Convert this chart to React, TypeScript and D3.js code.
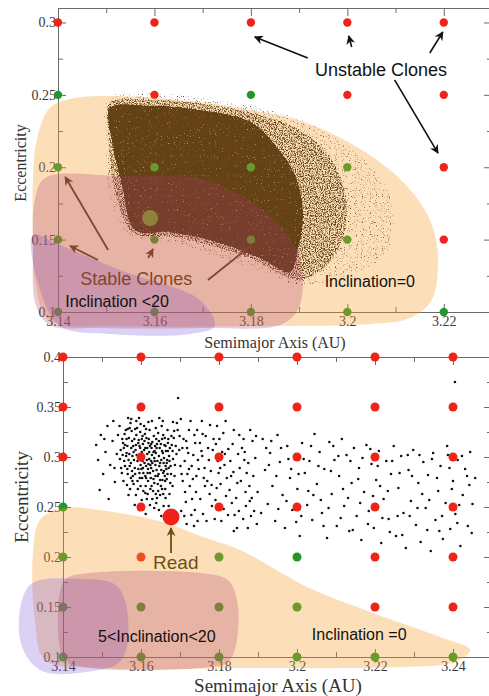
import { useEffect, useRef } from "react";
import * as d3 from "d3";

const W = 489;
const H = 696;

// ---------- upper panel (Inclination = 0 / < 20) ----------
const topColsA = [3.14, 3.16, 3.18, 3.2, 3.22];
const topRowsE = [0.3, 0.25, 0.2, 0.15, 0.1];
// u = unstable clone, s = stable clone (rows follow topRowsE)
const topStatus = [
  ["u", "u", "u", "u", "u"],
  ["s", "u", "s", "u", "u"],
  ["s", "s", "s", "s", "u"],
  ["s", "s", "s", "s", "u"],
  ["s", "s", "s", "s", "s"],
];
const topBigClone = [3.1591, 0.1649];
const topXTicks = [3.14, 3.16, 3.18, 3.2, 3.22];
const topXLabels = ["3.14", "3.16", "3.18", "3.2", "3.22"];
const topXMinor = [3.15, 3.17, 3.19, 3.21, 3.23];
const topYTicks = [0.1, 0.15, 0.2, 0.25, 0.3];
const topYLabels = ["0.1", "0.15", "0.2", "0.25", "0.3"];
const topYMinor = [0.125, 0.175, 0.225, 0.275];

// density contours of the integrated clone cloud (a, e)
const cloudFringe = [
  [3.1504, 0.2478], [3.1591, 0.2513], [3.1736, 0.2464], [3.1881, 0.2361], [3.1984, 0.2188],
  [3.2067, 0.1946], [3.2098, 0.167], [3.2078, 0.1394], [3.2005, 0.1256], [3.1902, 0.1187],
  [3.1798, 0.1304], [3.1653, 0.1463], [3.1549, 0.1532], [3.1508, 0.1774], [3.1499, 0.2188],
];
const cloudMedium = [
  [3.1506, 0.2444], [3.1611, 0.2464], [3.1756, 0.2409], [3.1881, 0.2292], [3.1953, 0.2119],
  [3.1995, 0.1843], [3.1995, 0.1566], [3.1964, 0.1345], [3.1902, 0.1221], [3.1798, 0.1373],
  [3.1653, 0.1511], [3.1555, 0.1553], [3.1518, 0.1843], [3.1504, 0.2257],
];
const cloudCore = [
  [3.1508, 0.2409], [3.1591, 0.2423], [3.1694, 0.2395], [3.1798, 0.2313], [3.185, 0.2154],
  [3.1891, 0.1946], [3.1908, 0.1684], [3.1897, 0.1428], [3.1881, 0.1276], [3.1819, 0.1373],
  [3.1715, 0.1497], [3.1632, 0.1553], [3.156, 0.1566], [3.1533, 0.1877], [3.1512, 0.2188],
];

const topInc0 = [
  [3.1348, 0.1912], [3.1356, 0.2188], [3.1383, 0.2409], [3.1435, 0.2478], [3.1522, 0.2492],
  [3.1653, 0.2464], [3.1777, 0.2409], [3.1916, 0.2306], [3.2053, 0.2071], [3.2136, 0.1822],
  [3.2177, 0.1587], [3.2188, 0.1345], [3.2175, 0.1083], [3.213, 0.0959], [3.2047, 0.0917],
  [3.1798, 0.0903], [3.1528, 0.0903], [3.1383, 0.0945], [3.1352, 0.1221], [3.1348, 0.1566],
];
const topStable = [
  [3.1373, 0.1926], [3.1528, 0.194], [3.1694, 0.1919], [3.1777, 0.1808], [3.185, 0.1636],
  [3.1895, 0.1428], [3.1908, 0.1221], [3.1897, 0.1014], [3.186, 0.091], [3.1694, 0.0889],
  [3.1487, 0.0889], [3.1383, 0.091], [3.1354, 0.1048], [3.1348, 0.1428], [3.1352, 0.1774],
];
const topInc20 = [
  [3.1348, 0.1532], [3.1363, 0.1152], [3.1404, 0.0903], [3.1508, 0.0848], [3.1674, 0.0848],
  [3.1725, 0.0903], [3.1694, 0.1083], [3.1528, 0.129], [3.1404, 0.1463],
];

const topArrowsBlack = [
  [[3.1918, 0.2755], [3.1808, 0.29]],
  [[3.2009, 0.2831], [3.2003, 0.2907]],
  [[3.2171, 0.2789], [3.2198, 0.2934]],
  [[3.2098, 0.2603], [3.2188, 0.2098]],
];
const topArrowsBrown = [
  [[3.1504, 0.1428], [3.1415, 0.1933]],
  [[3.1483, 0.1359], [3.1425, 0.1456]],
  [[3.1587, 0.1373], [3.1597, 0.1435]],
  [[3.1711, 0.1221], [3.1794, 0.1442]],
];

// ---------- lower panel (5 < Inclination < 20) ----------
const botColsA = [3.14, 3.16, 3.18, 3.2, 3.22, 3.24];
const botRowsE = [0.4, 0.35, 0.3, 0.25, 0.2, 0.15, 0.1];
const botStatus = [
  ["u", "u", "u", "u", "u", "u"],
  ["u", "u", "u", "u", "u", "u"],
  ["u", "u", "u", "u", "u", "u"],
  ["s", "u", "u", "u", "u", "u"],
  ["s", "u", "s", "s", "u", "u"],
  ["s", "s", "s", "s", "u", "u"],
  ["s", "s", "s", "s", "s", "s"],
];
const readOrbit = [3.1677, 0.24];
const botXTicks = [3.14, 3.16, 3.18, 3.2, 3.22, 3.24];
const botXLabels = ["3.14", "3.16", "3.18", "3.2", "3.22", "3.24"];
const botXMinor = [3.15, 3.17, 3.19, 3.21, 3.23, 3.25];
const botYTicks = [0.1, 0.15, 0.2, 0.25, 0.3, 0.35, 0.4];
const botYLabels = ["0.1", "0.15", "0.2", "0.25", "0.3", "0.35", "0.4"];
const botYMinor = [0.125, 0.175, 0.225, 0.275, 0.325, 0.375];

// end states of the Read clones (a, e)
const readClones = [
  [3.1552, 0.318], [3.1561, 0.327], [3.1573, 0.334], [3.158, 0.311], [3.1588, 0.322], [3.1595, 0.339],
  [3.1602, 0.305], [3.1609, 0.316], [3.1613, 0.328], [3.1621, 0.298], [3.1627, 0.309], [3.1633, 0.321],
  [3.164, 0.287], [3.1646, 0.301], [3.1651, 0.313], [3.1658, 0.294], [3.1664, 0.306], [3.167, 0.318],
  [3.1557, 0.296], [3.1566, 0.283], [3.1578, 0.301], [3.1584, 0.289], [3.1591, 0.276], [3.1599, 0.292],
  [3.1606, 0.284], [3.1612, 0.271], [3.1618, 0.288], [3.1625, 0.279], [3.1631, 0.266], [3.1637, 0.281],
  [3.1643, 0.273], [3.1649, 0.262], [3.1655, 0.277], [3.1662, 0.268], [3.1668, 0.283], [3.1675, 0.274],
  [3.1548, 0.307], [3.1559, 0.312], [3.1569, 0.319], [3.1576, 0.326], [3.1586, 0.307], [3.1593, 0.314],
  [3.1604, 0.321], [3.1616, 0.303], [3.1623, 0.311], [3.1635, 0.296], [3.1644, 0.324], [3.1653, 0.331],
  [3.1661, 0.319], [3.1672, 0.301], [3.1679, 0.312], [3.1685, 0.326], [3.1563, 0.304], [3.1571, 0.291],
  [3.1582, 0.297], [3.1597, 0.302], [3.1604, 0.296], [3.1611, 0.309], [3.1619, 0.293], [3.1628, 0.302],
  [3.1636, 0.311], [3.1647, 0.291], [3.1656, 0.304], [3.1666, 0.294], [3.1608, 0.331], [3.1628, 0.336],
  [3.1647, 0.339], [3.1588, 0.336], [3.1567, 0.339], [3.1545, 0.331], [3.1541, 0.322], [3.1549, 0.289],
  [3.1555, 0.276], [3.1572, 0.268], [3.1587, 0.262], [3.1602, 0.257], [3.1617, 0.263], [3.1639, 0.254],
  [3.1658, 0.251], [3.1596, 0.284], [3.1613, 0.279], [3.1626, 0.289], [3.1659, 0.286], [3.1676, 0.291],
  [3.1485, 0.312], [3.149, 0.297], [3.1497, 0.322], [3.1503, 0.283], [3.1509, 0.305], [3.1514, 0.331],
  [3.1521, 0.292], [3.1527, 0.316], [3.1533, 0.275], [3.1538, 0.303], [3.1494, 0.267], [3.1517, 0.258],
  [3.1529, 0.336], [3.1506, 0.318], [3.1532, 0.289], [3.1595, 0.247], [3.1612, 0.243], [3.1634, 0.249],
  [3.1652, 0.241], [3.1688, 0.238], [3.1703, 0.246], [3.1717, 0.233], [3.1729, 0.242], [3.1745, 0.236],
  [3.1623, 0.252], [3.1692, 0.334], [3.1699, 0.321], [3.1706, 0.309], [3.1712, 0.296], [3.1719, 0.283],
  [3.1725, 0.271], [3.1731, 0.258], [3.1738, 0.247], [3.1744, 0.327], [3.1751, 0.314], [3.1757, 0.301],
  [3.1763, 0.289], [3.177, 0.276], [3.1776, 0.263], [3.1782, 0.251], [3.1789, 0.238], [3.1795, 0.331],
  [3.1801, 0.318], [3.1808, 0.305], [3.1814, 0.292], [3.182, 0.279], [3.1827, 0.267], [3.1833, 0.254],
  [3.184, 0.242], [3.1846, 0.229], [3.1852, 0.322], [3.1859, 0.309], [3.1865, 0.297], [3.1871, 0.284],
  [3.1878, 0.271], [3.1884, 0.259], [3.189, 0.246], [3.1897, 0.233], [3.1702, 0.338], [3.1716, 0.316],
  [3.1734, 0.302], [3.1748, 0.288], [3.1766, 0.321], [3.1784, 0.307], [3.1799, 0.284], [3.1817, 0.336],
  [3.1835, 0.313], [3.1853, 0.289], [3.1868, 0.265], [3.1886, 0.316], [3.1893, 0.299], [3.1723, 0.327],
  [3.1741, 0.265], [3.1759, 0.243], [3.1777, 0.332], [3.1794, 0.269], [3.1812, 0.248], [3.1829, 0.296],
  [3.1847, 0.274], [3.1862, 0.238], [3.188, 0.327], [3.1715, 0.255], [3.1707, 0.276], [3.173, 0.291],
  [3.1756, 0.336], [3.1912, 0.318], [3.1918, 0.287], [3.1925, 0.253], [3.1931, 0.304], [3.1937, 0.271],
  [3.1944, 0.236], [3.195, 0.322], [3.1956, 0.295], [3.1963, 0.262], [3.1969, 0.229], [3.1975, 0.311],
  [3.1982, 0.279], [3.1988, 0.247], [3.1994, 0.301], [3.2001, 0.268], [3.2007, 0.221], [3.2013, 0.314],
  [3.202, 0.284], [3.2026, 0.252], [3.2032, 0.296], [3.2039, 0.237], [3.2045, 0.323], [3.2051, 0.273],
  [3.2058, 0.305], [3.2064, 0.244], [3.207, 0.288], [3.2077, 0.219], [3.2083, 0.315], [3.2089, 0.263],
  [3.2096, 0.297], [3.2102, 0.231], [3.2108, 0.281], [3.2115, 0.318], [3.2121, 0.251], [3.2127, 0.302],
  [3.2134, 0.226], [3.214, 0.274], [3.2146, 0.309], [3.2153, 0.241], [3.2159, 0.289], [3.2165, 0.217],
  [3.2172, 0.265], [3.2178, 0.312], [3.2184, 0.246], [3.2191, 0.293], [3.2197, 0.229], [3.2203, 0.277],
  [3.221, 0.306], [3.2216, 0.214], [3.2222, 0.258], [3.2229, 0.296], [3.2235, 0.238], [3.2241, 0.283],
  [3.2248, 0.311], [3.2254, 0.221], [3.226, 0.269], [3.2267, 0.301], [3.2273, 0.244], [3.2279, 0.209],
  [3.2286, 0.287], [3.2292, 0.256], [3.2298, 0.307], [3.2305, 0.232], [3.2311, 0.274], [3.2317, 0.215],
  [3.2324, 0.295], [3.233, 0.249], [3.2336, 0.282], [3.2343, 0.206], [3.2349, 0.304], [3.2355, 0.237],
  [3.2362, 0.266], [3.2368, 0.291], [3.2374, 0.218], [3.2381, 0.254], [3.2387, 0.302], [3.2393, 0.228],
  [3.24, 0.276], [3.2406, 0.243], [3.2412, 0.297], [3.2419, 0.211], [3.2425, 0.262], [3.2431, 0.288],
  [3.2438, 0.231], [3.2444, 0.305], [3.245, 0.253], [3.2457, 0.279], [3.1921, 0.309], [3.1947, 0.281],
  [3.1973, 0.256], [3.1998, 0.235], [3.2017, 0.298], [3.2042, 0.262], [3.2068, 0.231], [3.2093, 0.311],
  [3.2118, 0.268], [3.2143, 0.227], [3.2168, 0.299], [3.2195, 0.261], [3.2219, 0.239], [3.2244, 0.296],
  [3.227, 0.222], [3.2295, 0.281], [3.2321, 0.263], [3.2346, 0.298], [3.2372, 0.241], [3.2397, 0.268],
  [3.2423, 0.301], [3.2448, 0.224], [3.1695, 0.359], [3.2405, 0.375],
  [3.1554, 0.314], [3.1562, 0.301], [3.1571, 0.329], [3.1579, 0.281], [3.1583, 0.318], [3.1591, 0.296],
  [3.1598, 0.325], [3.1603, 0.279], [3.1607, 0.301], [3.1614, 0.319], [3.1617, 0.284], [3.1622, 0.327],
  [3.1626, 0.296], [3.1632, 0.305], [3.1634, 0.274], [3.1639, 0.318], [3.1642, 0.296], [3.1645, 0.283],
  [3.1648, 0.309], [3.1652, 0.297], [3.1657, 0.322], [3.1661, 0.281], [3.1663, 0.311], [3.1667, 0.297],
  [3.1671, 0.289], [3.1674, 0.309], [3.1678, 0.321], [3.1682, 0.298], [3.1686, 0.281], [3.1689, 0.311],
  [3.1558, 0.323], [3.1565, 0.311], [3.1568, 0.297], [3.1575, 0.309], [3.1577, 0.286], [3.1585, 0.328],
  [3.1589, 0.302], [3.1594, 0.317], [3.1598, 0.309], [3.1601, 0.288], [3.1605, 0.313], [3.1609, 0.294],
  [3.1611, 0.281], [3.1615, 0.297], [3.1619, 0.314], [3.1621, 0.305], [3.1624, 0.292], [3.1629, 0.315],
  [3.1631, 0.286], [3.1634, 0.299], [3.1638, 0.304], [3.1641, 0.313], [3.1644, 0.266], [3.1649, 0.277],
  [3.1652, 0.287], [3.1654, 0.318], [3.1659, 0.299], [3.1662, 0.276], [3.1665, 0.288], [3.1669, 0.306],
  [3.1546, 0.298], [3.1551, 0.284], [3.1564, 0.272], [3.1574, 0.279], [3.1581, 0.273], [3.1592, 0.268],
  [3.1597, 0.279], [3.1606, 0.266], [3.1615, 0.258], [3.1627, 0.271], [3.1638, 0.263], [3.1654, 0.268],
  [3.1663, 0.259], [3.1673, 0.263], [3.1681, 0.271], [3.1568, 0.262], [3.1584, 0.252], [3.1629, 0.258],
  [3.1646, 0.247], [3.1671, 0.251], [3.1694, 0.327], [3.1701, 0.291], [3.1709, 0.318], [3.1713, 0.265],
  [3.1721, 0.304], [3.1727, 0.336], [3.1733, 0.278], [3.1739, 0.314], [3.1746, 0.297], [3.1752, 0.258],
  [3.1758, 0.323], [3.1764, 0.271], [3.1772, 0.309], [3.1779, 0.286], [3.1786, 0.318], [3.1791, 0.257],
  [3.1797, 0.296], [3.1804, 0.273], [3.1811, 0.324], [3.1818, 0.261], [3.1824, 0.308], [3.1831, 0.281],
  [3.1838, 0.327], [3.1844, 0.259], [3.1849, 0.303], [3.1856, 0.276], [3.1863, 0.318], [3.1869, 0.251],
  [3.1875, 0.294], [3.1882, 0.241], [3.1888, 0.281], [3.1895, 0.321], [3.1711, 0.241], [3.1736, 0.231],
  [3.1768, 0.236], [3.1806, 0.236], [3.1838, 0.226], [3.1874, 0.229], [3.1928, 0.292], [3.1959, 0.309],
  [3.1985, 0.288], [3.2011, 0.241], [3.2036, 0.311], [3.2061, 0.257], [3.2087, 0.286], [3.2112, 0.239],
  [3.2137, 0.296], [3.2162, 0.254], [3.2188, 0.308], [3.2213, 0.271], [3.2238, 0.225], [3.2263, 0.284],
  [3.2289, 0.241], [3.2314, 0.302], [3.2339, 0.257], [3.2365, 0.226], [3.2391, 0.289], [3.2416, 0.252],
  [3.2442, 0.272],
  [3.1556, 0.309], [3.1559, 0.291], [3.1563, 0.318], [3.1566, 0.328], [3.157, 0.303], [3.1574, 0.294],
  [3.1577, 0.316], [3.1581, 0.305], [3.1585, 0.283], [3.1587, 0.312], [3.159, 0.329], [3.1593, 0.288],
  [3.1596, 0.311], [3.16, 0.297], [3.1602, 0.318], [3.1605, 0.289], [3.1608, 0.307], [3.161, 0.323],
  [3.1613, 0.291], [3.1616, 0.309], [3.1618, 0.276], [3.162, 0.318], [3.1623, 0.284], [3.1626, 0.313],
  [3.1629, 0.294], [3.1632, 0.278], [3.1635, 0.306], [3.1637, 0.292], [3.164, 0.309], [3.1643, 0.281],
  [3.1646, 0.316], [3.1649, 0.294], [3.1651, 0.271], [3.1654, 0.306], [3.1657, 0.284], [3.166, 0.312],
  [3.1663, 0.291], [3.1666, 0.278], [3.1669, 0.314], [3.1673, 0.296], [3.1677, 0.283], [3.1681, 0.306],
  [3.1684, 0.319], [3.1687, 0.292], [3.1691, 0.303], [3.1599, 0.271], [3.1611, 0.264], [3.1624, 0.268],
  [3.1641, 0.259], [3.1657, 0.263], [3.1578, 0.276], [3.1565, 0.288], [3.1553, 0.302], [3.1575, 0.338],
  [3.1599, 0.333], [3.1619, 0.335], [3.1638, 0.329], [3.1656, 0.336], [3.1668, 0.327], [3.1682, 0.335],
  [3.1698, 0.307], [3.1704, 0.283], [3.1718, 0.309], [3.1723, 0.288], [3.1737, 0.322], [3.1742, 0.281],
  [3.1755, 0.306], [3.1761, 0.279], [3.1774, 0.297], [3.1781, 0.272], [3.1792, 0.313], [3.1803, 0.289],
  [3.1815, 0.303], [3.1823, 0.242], [3.1837, 0.285], [3.1851, 0.246], [3.1866, 0.305], [3.1879, 0.256],
  [3.1899, 0.265], [3.1908, 0.244], [3.1934, 0.316], [3.1952, 0.248], [3.1978, 0.298], [3.2004, 0.283],
  [3.2029, 0.266], [3.2055, 0.291], [3.2081, 0.249], [3.2106, 0.301], [3.2131, 0.259], [3.2157, 0.278],
  [3.2182, 0.233], [3.2207, 0.291], [3.2233, 0.266], [3.2258, 0.241], [3.2284, 0.302], [3.2309, 0.249],
  [3.2334, 0.227], [3.2359, 0.279], [3.2385, 0.311], [3.2411, 0.234], [3.2436, 0.281],
];

const botInc0 = [
  [3.1323, 0.204], [3.1341, 0.237], [3.14, 0.249], [3.1528, 0.245], [3.1656, 0.235], [3.1759, 0.22],
  [3.1854, 0.207], [3.2026, 0.17], [3.2195, 0.144], [3.2367, 0.12], [3.2444, 0.107], [3.2405, 0.095],
  [3.2264, 0.09], [3.1879, 0.089], [3.1495, 0.089], [3.1354, 0.097], [3.1328, 0.137],
];
const botStable = [
  [3.1469, 0.184], [3.1751, 0.184], [3.1823, 0.177], [3.1846, 0.157], [3.1846, 0.117], [3.1823, 0.095],
  [3.1751, 0.089], [3.1469, 0.089], [3.1405, 0.097], [3.1387, 0.137], [3.1405, 0.177],
];
const botInc20 = [
  [3.1315, 0.172], [3.1444, 0.178], [3.1535, 0.172], [3.1565, 0.145], [3.155, 0.097], [3.146, 0.085],
  [3.1341, 0.087], [3.129, 0.117],
];
const readArrow = [[3.1677, 0.204], [3.1677, 0.229]];

const RED = "#ee2418";
const GREEN = "#23972a";
const BROWN = "#84452f";
const SANS = "'Liberation Sans', Arial, sans-serif";
const SERIF = "'Liberation Serif', 'Times New Roman', serif";

const ORANGE = ["rgb(245,160,50)", 0.34] as const;
const LAVENDER = ["rgb(120,85,215)", 0.27] as const;
const ROSE = ["rgb(170,55,105)", 0.26] as const;

type Sel = d3.Selection<SVGGElement, unknown, null, undefined>;

function drawFrame(g: Sel, x: any, y: any, c: any) {
  const [x0, x1] = x.range();
  const [y0, y1] = y.range();
  const axes = g.append("g").attr("color", "#6a6a6a");
  const add = (tr: string, axis: any) => axes.append("g").attr("transform", tr).call(axis);
  add(`translate(${x0},0)`, d3.axisLeft(y).tickValues(c.yTicks).tickFormat((_d: any, i: number) => c.yLabels[i]).tickSize(-8).tickSizeOuter(0).tickPadding(2));
  add(`translate(${x0},0)`, d3.axisLeft(y).tickValues(c.yMinor).tickFormat(() => "").tickSize(-5).tickSizeOuter(0));
  add(`translate(0,${y0})`, d3.axisBottom(x).tickValues(c.xTicks).tickFormat((_d: any, i: number) => c.xLabels[i]).tickSize(-8).tickSizeOuter(0).tickPadding(4));
  add(`translate(0,${y0})`, d3.axisBottom(x).tickValues(c.xMinor).tickFormat(() => "").tickSize(-5).tickSizeOuter(0));
  add(`translate(0,${y1})`, d3.axisTop(x).tickValues(c.xTicks).tickFormat(() => "").tickSize(-8).tickSizeOuter(0));
  add(`translate(0,${y1})`, d3.axisTop(x).tickValues(c.xMinor).tickFormat(() => "").tickSize(-5).tickSizeOuter(0));
  add(`translate(${x1},0)`, d3.axisRight(y).tickValues(c.yTicks).tickFormat(() => "").tickSize(-8).tickSizeOuter(0));
  add(`translate(${x1},0)`, d3.axisRight(y).tickValues(c.yMinor).tickFormat(() => "").tickSize(-5).tickSizeOuter(0));
  axes.selectAll("g").attr("font-size", c.fs).attr("font-family", SERIF);
  axes.selectAll("text").attr("fill", "#3a3a3a").style("font-size", `${c.fs}px`);

  g.append("text").attr("x", c.xTitle[0]).attr("y", c.xTitle[1]).attr("text-anchor", "middle")
    .attr("font-family", SERIF).attr("font-size", c.titleFs).attr("fill", "#333").text("Semimajor Axis (AU)");
  g.append("text").attr("transform", `translate(${c.yTitle[0]},${c.yTitle[1]}) rotate(-90)`).attr("text-anchor", "middle")
    .attr("font-family", SERIF).attr("font-size", c.titleFs).attr("fill", "#333").text("Eccentricity");
}

function drawGrid(g: Sel, x: any, y: any, cols: number[], rows: number[], status: string[][], r: number) {
  const cells = rows.flatMap((e, i) => cols.map((a, j) => ({ a, e, s: status[i][j] })));
  g.append("g").selectAll("circle").data(cells).join("circle")
    .attr("cx", (d) => x(d.a)).attr("cy", (d) => y(d.e)).attr("r", r)
    .attr("fill", (d) => (d.s === "u" ? RED : GREEN));
}

function drawRegion(g: Sel, x: any, y: any, pts: number[][], style: readonly [string, number]) {
  const line = d3.line<number[]>().x((d) => x(d[0])).y((d) => y(d[1])).curve(d3.curveCatmullRomClosed.alpha(0.5));
  g.append("path").attr("d", line(pts)).attr("fill", style[0]).attr("fill-opacity", style[1]);
}

function drawArrows(g: Sel, x: any, y: any, arrows: number[][][], color: string, marker: string, w: number) {
  g.append("g").selectAll("line").data(arrows).join("line")
    .attr("x1", (d) => x(d[0][0])).attr("y1", (d) => y(d[0][1]))
    .attr("x2", (d) => x(d[1][0])).attr("y2", (d) => y(d[1][1]))
    .attr("stroke", color).attr("stroke-width", w).attr("marker-end", `url(#${marker})`);
}

function label(g: Sel, x: any, y: any, at: number[], txt: string, fs: number, color: string) {
  g.append("text").attr("x", x(at[0])).attr("y", y(at[1])).attr("font-family", SANS)
    .attr("font-size", fs).attr("fill", color).text(txt);
}

function App() {
  const ref = useRef<SVGSVGElement>(null);

  useEffect(() => {
    const svg = d3.select(ref.current);
    svg.selectAll("*").remove();

    const defs = svg.append("defs");
    const mk = (id: string, color: string) =>
      defs.append("marker").attr("id", id).attr("viewBox", "0 0 10 10").attr("refX", 9).attr("refY", 5)
        .attr("markerWidth", 9).attr("markerHeight", 9).attr("markerUnits", "userSpaceOnUse").attr("orient", "auto")
        .append("path").attr("d", "M0,0 L10,5 L0,10 L3,5 z").attr("fill", color);
    mk("arrowK", "#111");
    mk("arrowB", BROWN);
    mk("arrowR", "#6e4f14");

    // speckle texture for the dense clone cloud
    const f = defs.append("filter").attr("id", "stipple").attr("x", "-5%").attr("y", "-5%").attr("width", "110%").attr("height", "110%")
      .attr("color-interpolation-filters", "sRGB");
    f.append("feTurbulence").attr("type", "fractalNoise").attr("baseFrequency", 0.85).attr("numOctaves", 2).attr("seed", 4).attr("result", "noise");
    f.append("feColorMatrix").attr("in", "noise").attr("type", "matrix")
      .attr("values", "0 0 0 0 0  0 0 0 0 0  0 0 0 0 0  1 0 0 0 0").attr("result", "n");
    f.append("feComposite").attr("in", "SourceAlpha").attr("in2", "n").attr("operator", "arithmetic")
      .attr("k1", 0).attr("k2", 4).attr("k3", 4).attr("k4", -4.1).attr("result", "mask");
    f.append("feFlood").attr("flood-color", "#1a1208").attr("result", "ink");
    f.append("feComposite").attr("in", "ink").attr("in2", "mask").attr("operator", "in");

    // ---- upper panel
    const xT = d3.scaleLinear().domain([3.14, 3.23]).range([58, 492]);
    const yT = d3.scaleLinear().domain([0.1, 0.31]).range([312, 8]);
    const gT = svg.append("g");
    drawFrame(gT, xT, yT, {
      xTicks: topXTicks, xLabels: topXLabels, xMinor: topXMinor,
      yTicks: topYTicks, yLabels: topYLabels, yMinor: topYMinor,
      fs: 14, titleFs: 16, xTitle: [275, 348], yTitle: [26, 163],
    });
    const cloudLine = d3.line<number[]>().x((d) => xT(d[0])).y((d) => yT(d[1])).curve(d3.curveCatmullRomClosed.alpha(0.5));
    const cloud = gT.append("g").attr("filter", "url(#stipple)");
    cloud.append("path").attr("d", cloudLine(cloudFringe)).attr("fill", "#000").attr("fill-opacity", 0.42);
    cloud.append("path").attr("d", cloudLine(cloudMedium)).attr("fill", "#000").attr("fill-opacity", 0.33);
    cloud.append("path").attr("d", cloudLine(cloudCore)).attr("fill", "#000").attr("fill-opacity", 0.9);
    drawGrid(gT, xT, yT, topColsA, topRowsE, topStatus, 4.2);
    gT.append("circle").attr("cx", xT(topBigClone[0])).attr("cy", yT(topBigClone[1])).attr("r", 8).attr("fill", "#4f9a2a");
    drawRegion(gT, xT, yT, topInc0, ORANGE);
    drawRegion(gT, xT, yT, topInc20, LAVENDER);
    drawRegion(gT, xT, yT, topStable, ROSE);
    drawArrows(gT, xT, yT, topArrowsBlack, "#111", "arrowK", 1.6);
    drawArrows(gT, xT, yT, topArrowsBrown, BROWN, "arrowB", 1.8);
    label(gT, xT, yT, [3.1933, 0.263], "Unstable Clones", 18, "#111");
    label(gT, xT, yT, [3.1446, 0.1187], "Stable Clones", 18, BROWN);
    label(gT, xT, yT, [3.1415, 0.1035], "Inclination <20", 16, "#111");
    label(gT, xT, yT, [3.1953, 0.1173], "Inclination=0", 16, "#111");

    // ---- lower panel
    const xB = d3.scaleLinear().domain([3.14, 3.25]).range([63, 492]);
    const yB = d3.scaleLinear().domain([0.1, 0.4]).range([657, 357]);
    const gB = svg.append("g");
    drawFrame(gB, xB, yB, {
      xTicks: botXTicks, xLabels: botXLabels, xMinor: botXMinor,
      yTicks: botYTicks, yLabels: botYLabels, yMinor: botYMinor,
      fs: 14, titleFs: 19, xTitle: [278, 692], yTitle: [28, 497],
    });
    gB.append("g").selectAll("circle").data(readClones).join("circle")
      .attr("cx", (d) => xB(d[0])).attr("cy", (d) => yB(d[1])).attr("r", 1.3).attr("fill", "#111");
    drawGrid(gB, xB, yB, botColsA, botRowsE, botStatus, 4.5);
    drawRegion(gB, xB, yB, botInc0, ORANGE);
    drawRegion(gB, xB, yB, botInc20, LAVENDER);
    drawRegion(gB, xB, yB, botStable, ROSE);
    gB.append("circle").attr("cx", xB(readOrbit[0])).attr("cy", yB(readOrbit[1])).attr("r", 8.5).attr("fill", RED);
    drawArrows(gB, xB, yB, [readArrow], "#6e4f14", "arrowR", 1.8);
    label(gB, xB, yB, [3.1631, 0.188], "Read", 19, "#6e4f14");
    label(gB, xB, yB, [3.149, 0.115], "5<Inclination<20", 16, "#111");
    label(gB, xB, yB, [3.2038, 0.117], "Inclination =0", 16, "#111");
  }, []);

  return (
    <svg ref={ref} width={W} height={H}
      style={{ position: "absolute", left: 0, top: 0, background: "#fff" }} />
  );
}

export default App;
